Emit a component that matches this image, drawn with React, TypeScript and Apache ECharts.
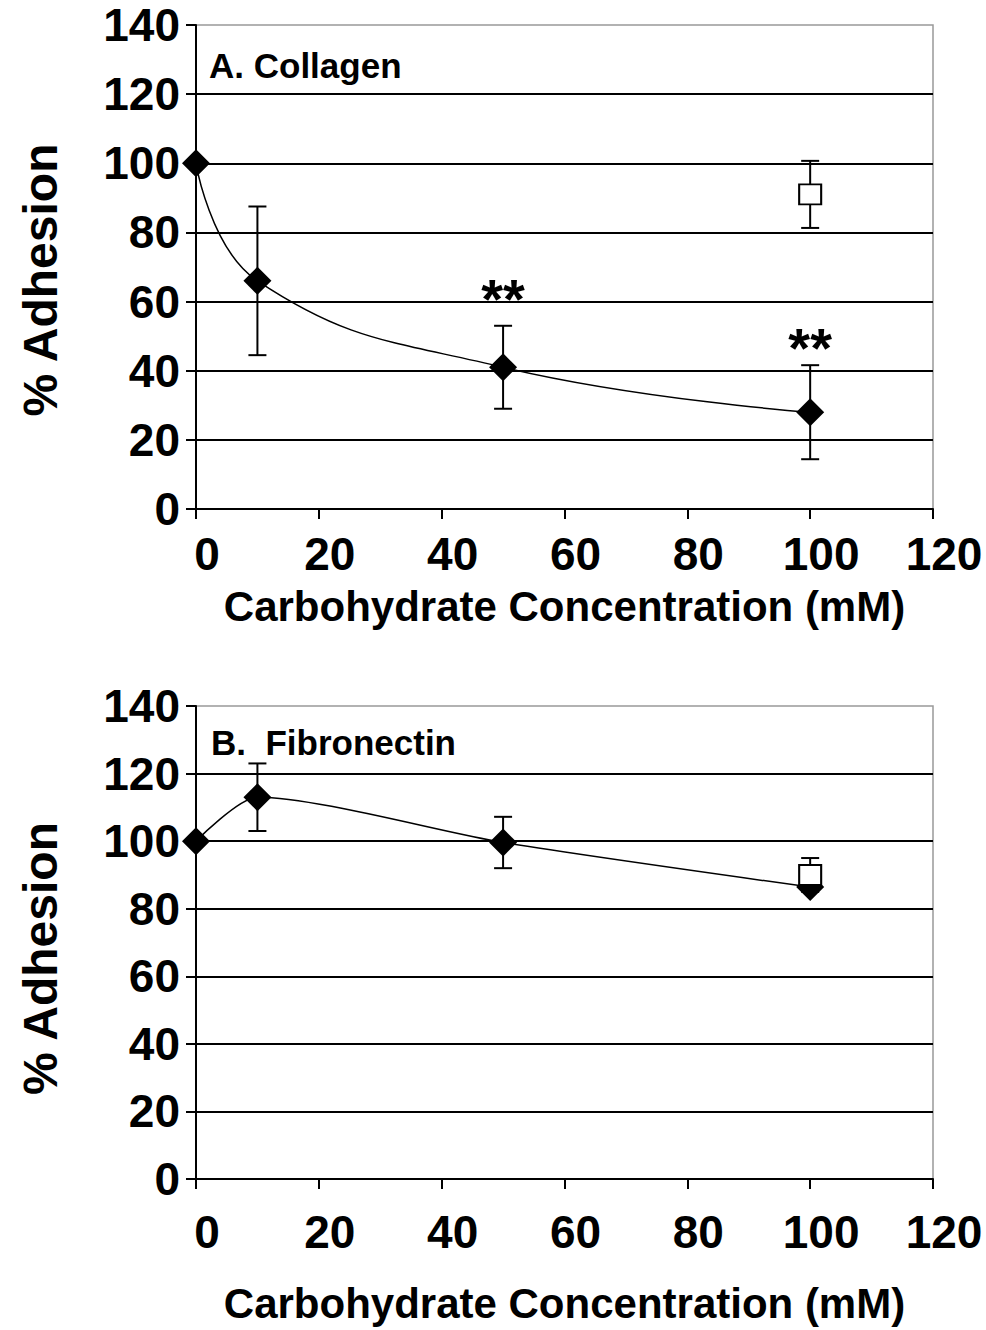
import React, { useEffect, useRef } from "react";
import * as echarts from "echarts";

// ---- Data ----
// Panel A: Collagen
const aX = [0, 10, 50, 100];
const aMean = [100, 66, 41, 28];
const aErr = [0, 21.5, 12, 13.6];
const aCtrlX = [100];
const aCtrlMean = [91];
const aCtrlErr = [9.7];
const aStarX = [50, 100];
const aStarY = [62.8, 48.8];
const aStarText = ["**", "**"];

// Panel B: Fibronectin
const bX = [0, 10, 50, 100];
const bMean = [100, 113, 99.6, 86.4];
const bErr = [0, 10, 7.6, 0];
const bCtrlX = [100];
const bCtrlMean = [90];
const bCtrlErr = [5];

const xTicks = { min: 0, max: 120, interval: 20 };
const yTicks = { min: 0, max: 140, interval: 20 };

const FONT = "'Liberation Sans', Arial, Helvetica, sans-serif";

function errorRender(params: any, api: any) {
  const x = api.value(0);
  const y = api.value(1);
  const e = api.value(2);
  if (!e) return { type: "group", children: [] };
  const top = api.coord([x, y + e]);
  const bot = api.coord([x, y - e]);
  const w = 9;
  const st = { stroke: "#000", lineWidth: 2 };
  return {
    type: "group",
    children: [
      { type: "line", shape: { x1: top[0], y1: top[1], x2: bot[0], y2: bot[1] }, style: st },
      { type: "line", shape: { x1: top[0] - w, y1: top[1], x2: top[0] + w, y2: top[1] }, style: st },
      { type: "line", shape: { x1: bot[0] - w, y1: bot[1], x2: bot[0] + w, y2: bot[1] }, style: st },
    ],
  };
}

function starRender(params: any, api: any) {
  const p = api.coord([api.value(0), api.value(1)]);
  return {
    type: "text",
    x: p[0],
    y: p[1] + 7,
    style: {
      text: aStarText[params.dataIndex],
      fontSize: 56,
      fontWeight: "bold",
      fontFamily: FONT,
      fill: "#000",
      align: "center",
      verticalAlign: "middle",
    },
  };
}

function makeX(idx: number, margin: number, nameGap: number) {
  return {
    type: "value",
    gridIndex: idx,
    min: xTicks.min,
    max: xTicks.max,
    interval: xTicks.interval,
    name: "Carbohydrate Concentration (mM)",
    nameLocation: "middle",
    nameGap,
    nameTextStyle: { fontSize: 42, fontWeight: "bold", color: "#000", fontFamily: FONT },
    axisLine: { show: true, lineStyle: { color: "#000", width: 2 } },
    axisTick: { show: true, inside: false, length: 10, lineStyle: { color: "#000", width: 2 } },
    axisLabel: {
      fontSize: 46,
      fontWeight: "bold",
      color: "#000",
      fontFamily: FONT,
      margin,
      padding: [0, 0, 0, 22],
    },
    splitLine: { show: false },
  };
}

function makeY(idx: number, shift: number) {
  return {
    type: "value",
    gridIndex: idx,
    min: yTicks.min,
    max: yTicks.max,
    interval: yTicks.interval,
    name: "% Adhesion",
    nameLocation: "middle",
    nameGap: 132,
    nameTextStyle: {
      fontSize: 48,
      fontWeight: "bold",
      color: "#000",
      fontFamily: FONT,
      padding: [0, shift, 0, 0],
    },
    axisLine: { show: true, lineStyle: { color: "#000", width: 2 } },
    axisTick: { show: true, inside: false, length: 10, lineStyle: { color: "#000", width: 2 } },
    axisLabel: { fontSize: 46, fontWeight: "bold", color: "#000", fontFamily: FONT, margin: 16 },
    splitLine: {
      show: true,
      showMinLine: false,
      showMaxLine: false,
      lineStyle: { color: "#000", width: 2 },
    },
  };
}

function zip2(xs: number[], ys: number[]) {
  return xs.map((x, i) => [x, ys[i]]);
}
function zip3(xs: number[], ys: number[], es: number[]) {
  return xs.map((x, i) => [x, ys[i], es[i]]);
}

export default function App() {
  const ref = useRef<HTMLDivElement>(null);
  useEffect(() => {
    if (!ref.current) return;
    const chart = echarts.init(ref.current, null, { renderer: "svg" });
    const seriesFor = (
      idx: number,
      xs: number[],
      m: number[],
      e: number[],
      cx: number[],
      cm: number[],
      ce: number[],
      smooth: number
    ) => [
      {
        type: "custom",
        xAxisIndex: idx,
        yAxisIndex: idx,
        renderItem: errorRender,
        data: zip3(xs, m, e),
        encode: { x: 0, y: 1 },
        z: 1,
        silent: true,
      },
      {
        type: "custom",
        xAxisIndex: idx,
        yAxisIndex: idx,
        renderItem: errorRender,
        data: zip3(cx, cm, ce),
        encode: { x: 0, y: 1 },
        z: 1,
        silent: true,
      },
      {
        type: "line",
        xAxisIndex: idx,
        yAxisIndex: idx,
        data: zip2(xs, m),
        smooth,
        symbol: "diamond",
        symbolSize: 28,
        lineStyle: { color: "#000", width: 1.5 },
        itemStyle: { color: "#000", opacity: 1 },
        z: 2,
      },
      {
        type: "scatter",
        xAxisIndex: idx,
        yAxisIndex: idx,
        data: zip2(cx, cm),
        symbol: "rect",
        symbolSize: [22, 20],
        itemStyle: { color: "#fff", borderColor: "#000", borderWidth: 2, opacity: 1 },
        z: 3,
      },
    ];
    chart.setOption({
      animation: false,
      backgroundColor: "#fff",
      title: [
        {
          text: "A. Collagen",
          left: 204,
          top: 43,
          textStyle: { fontSize: 35, fontWeight: "bold", color: "#000", fontFamily: FONT },
        },
        {
          text: "B.  Fibronectin",
          left: 206,
          top: 720,
          textStyle: { fontSize: 35, fontWeight: "bold", color: "#000", fontFamily: FONT },
        },
      ],
      grid: [
        { left: 196, top: 25, width: 737, height: 484, show: true, borderColor: "#999", borderWidth: 1.5, backgroundColor: "transparent" },
        { left: 196, top: 706, width: 737, height: 473, show: true, borderColor: "#999", borderWidth: 1.5, backgroundColor: "transparent" },
      ],
      xAxis: [makeX(0, 22, 76), makeX(1, 30, 103)],
      yAxis: [makeY(0, 26), makeY(1, 32)],
      series: [
        ...seriesFor(0, aX, aMean, aErr, aCtrlX, aCtrlMean, aCtrlErr, 0.45),
        ...seriesFor(1, bX, bMean, bErr, bCtrlX, bCtrlMean, bCtrlErr, 0.25),
        {
          type: "custom",
          xAxisIndex: 0,
          yAxisIndex: 0,
          renderItem: starRender,
          data: zip2(aStarX, aStarY),
          encode: { x: 0, y: 1 },
          z: 4,
          silent: true,
        },
      ],
    });
    return () => chart.dispose();
  }, []);
  return (
    <div
      ref={ref}
      style={{ position: "absolute", left: 0, top: 0, width: 986, height: 1330, background: "#fff" }}
    />
  );
}
